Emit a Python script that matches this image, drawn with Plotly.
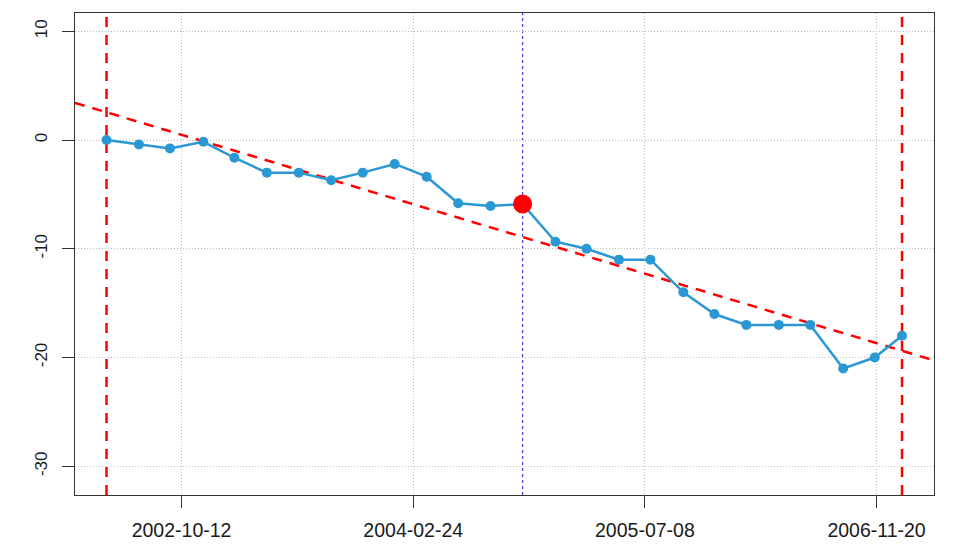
import numpy as np
import pandas as pd
import plotly.graph_objects as go

# Observation dates and cumulative change values
dates = [
    "2002-05-03", "2002-07-12", "2002-09-17", "2002-11-28", "2003-02-03",
    "2003-04-14", "2003-06-22", "2003-08-31", "2003-11-07", "2004-01-15",
    "2004-03-24", "2004-05-31", "2004-08-09", "2004-10-17", "2004-12-27",
    "2005-03-04", "2005-05-13", "2005-07-20", "2005-09-29", "2005-12-05",
    "2006-02-12", "2006-04-23", "2006-06-30", "2006-09-09", "2006-11-16",
    "2007-01-14",
]
values = [
    0.0, -0.4, -0.77, -0.16, -1.63,
    -3.0, -3.0, -3.7, -3.0, -2.2,
    -3.37, -5.82, -6.07, -5.89, -9.35,
    -10.0, -11.0, -11.0, -14.0, -16.0,
    -17.0, -17.0, -17.0, -21.0, -20.0,
    -18.0,
]
# index of the highlighted observation
highlight_idx = 13

# axis ticks
x_tick_dates = ["2002-10-12", "2004-02-24", "2005-07-08", "2006-11-20"]
y_ticks = [-30, -20, -10, 0, 10]

x_range = ["2002-02-24", "2007-03-24"]
y_range = [-32.64, 11.68]

dt = pd.to_datetime(dates)
days = (dt - pd.Timestamp("1970-01-01")).days.to_numpy(dtype=float)
slope, intercept = np.polyfit(days, np.array(values), 1)

xr = pd.to_datetime(x_range)
xr_days = (xr - pd.Timestamp("1970-01-01")).days.to_numpy(dtype=float)
trend_y = slope * xr_days + intercept

BLUE = "#2B98D4"
RED = "#FF0000"
FONT = "Liberation Sans, Arial, Helvetica, sans-serif"

fig = go.Figure()

# trend line (least squares fit)
fig.add_trace(go.Scatter(
    x=list(xr), y=list(trend_y), mode="lines",
    line=dict(color=RED, width=2.5, dash="10px,8px"),
    hoverinfo="skip", showlegend=False,
))

# series
fig.add_trace(go.Scatter(
    x=dt, y=values, mode="lines+markers",
    line=dict(color=BLUE, width=2.5),
    marker=dict(color=BLUE, size=10),
    showlegend=False,
))

# highlighted point
fig.add_trace(go.Scatter(
    x=[dt[highlight_idx]], y=[values[highlight_idx]], mode="markers",
    marker=dict(color=RED, size=19),
    showlegend=False,
))

# vertical markers at start, end and highlighted date
for d in (dt[0], dt[-1]):
    fig.add_shape(type="line", xref="x", yref="paper", x0=d, x1=d, y0=0, y1=1,
                  line=dict(color=RED, width=2.5, dash="10px,8px"), layer="below")
fig.add_shape(type="line", xref="x", yref="paper",
              x0=dt[highlight_idx], x1=dt[highlight_idx], y0=0, y1=1,
              line=dict(color="#3a3adf", width=1.2, dash="3px,3px"), layer="below")

fig.update_layout(
    width=953, height=544,
    margin=dict(l=75, r=19, t=13, b=49, autoexpand=False),
    paper_bgcolor="white", plot_bgcolor="white",
    font=dict(family=FONT, color="#1a1a1a"),
)

fig.update_xaxes(
    type="date", range=x_range, automargin=False,
    tickmode="array", tickvals=x_tick_dates, ticktext=x_tick_dates,
    ticks="outside", ticklen=12, tickwidth=1.3, tickcolor="#333",
    tickfont=dict(size=19.5, family=FONT),
    ticklabelstandoff=5,
    showline=True, linecolor="#333", linewidth=1.3, mirror=True,
    showgrid=True, gridcolor="#bdbdbd", gridwidth=1, griddash="1px,2px",
    zeroline=False,
)
fig.update_yaxes(
    range=y_range, automargin=False,
    tickmode="array", tickvals=y_ticks, ticktext=[str(v) for v in y_ticks],
    tickangle=-90,
    ticks="outside", ticklen=12, tickwidth=1.3, tickcolor="#333",
    tickfont=dict(size=17, family=FONT),
    ticklabelstandoff=8,
    showline=True, linecolor="#333", linewidth=1.3, mirror=True,
    showgrid=True, gridcolor="#bdbdbd", gridwidth=1, griddash="1px,2px",
    zeroline=False,
)

fig.write_html("out.html")
